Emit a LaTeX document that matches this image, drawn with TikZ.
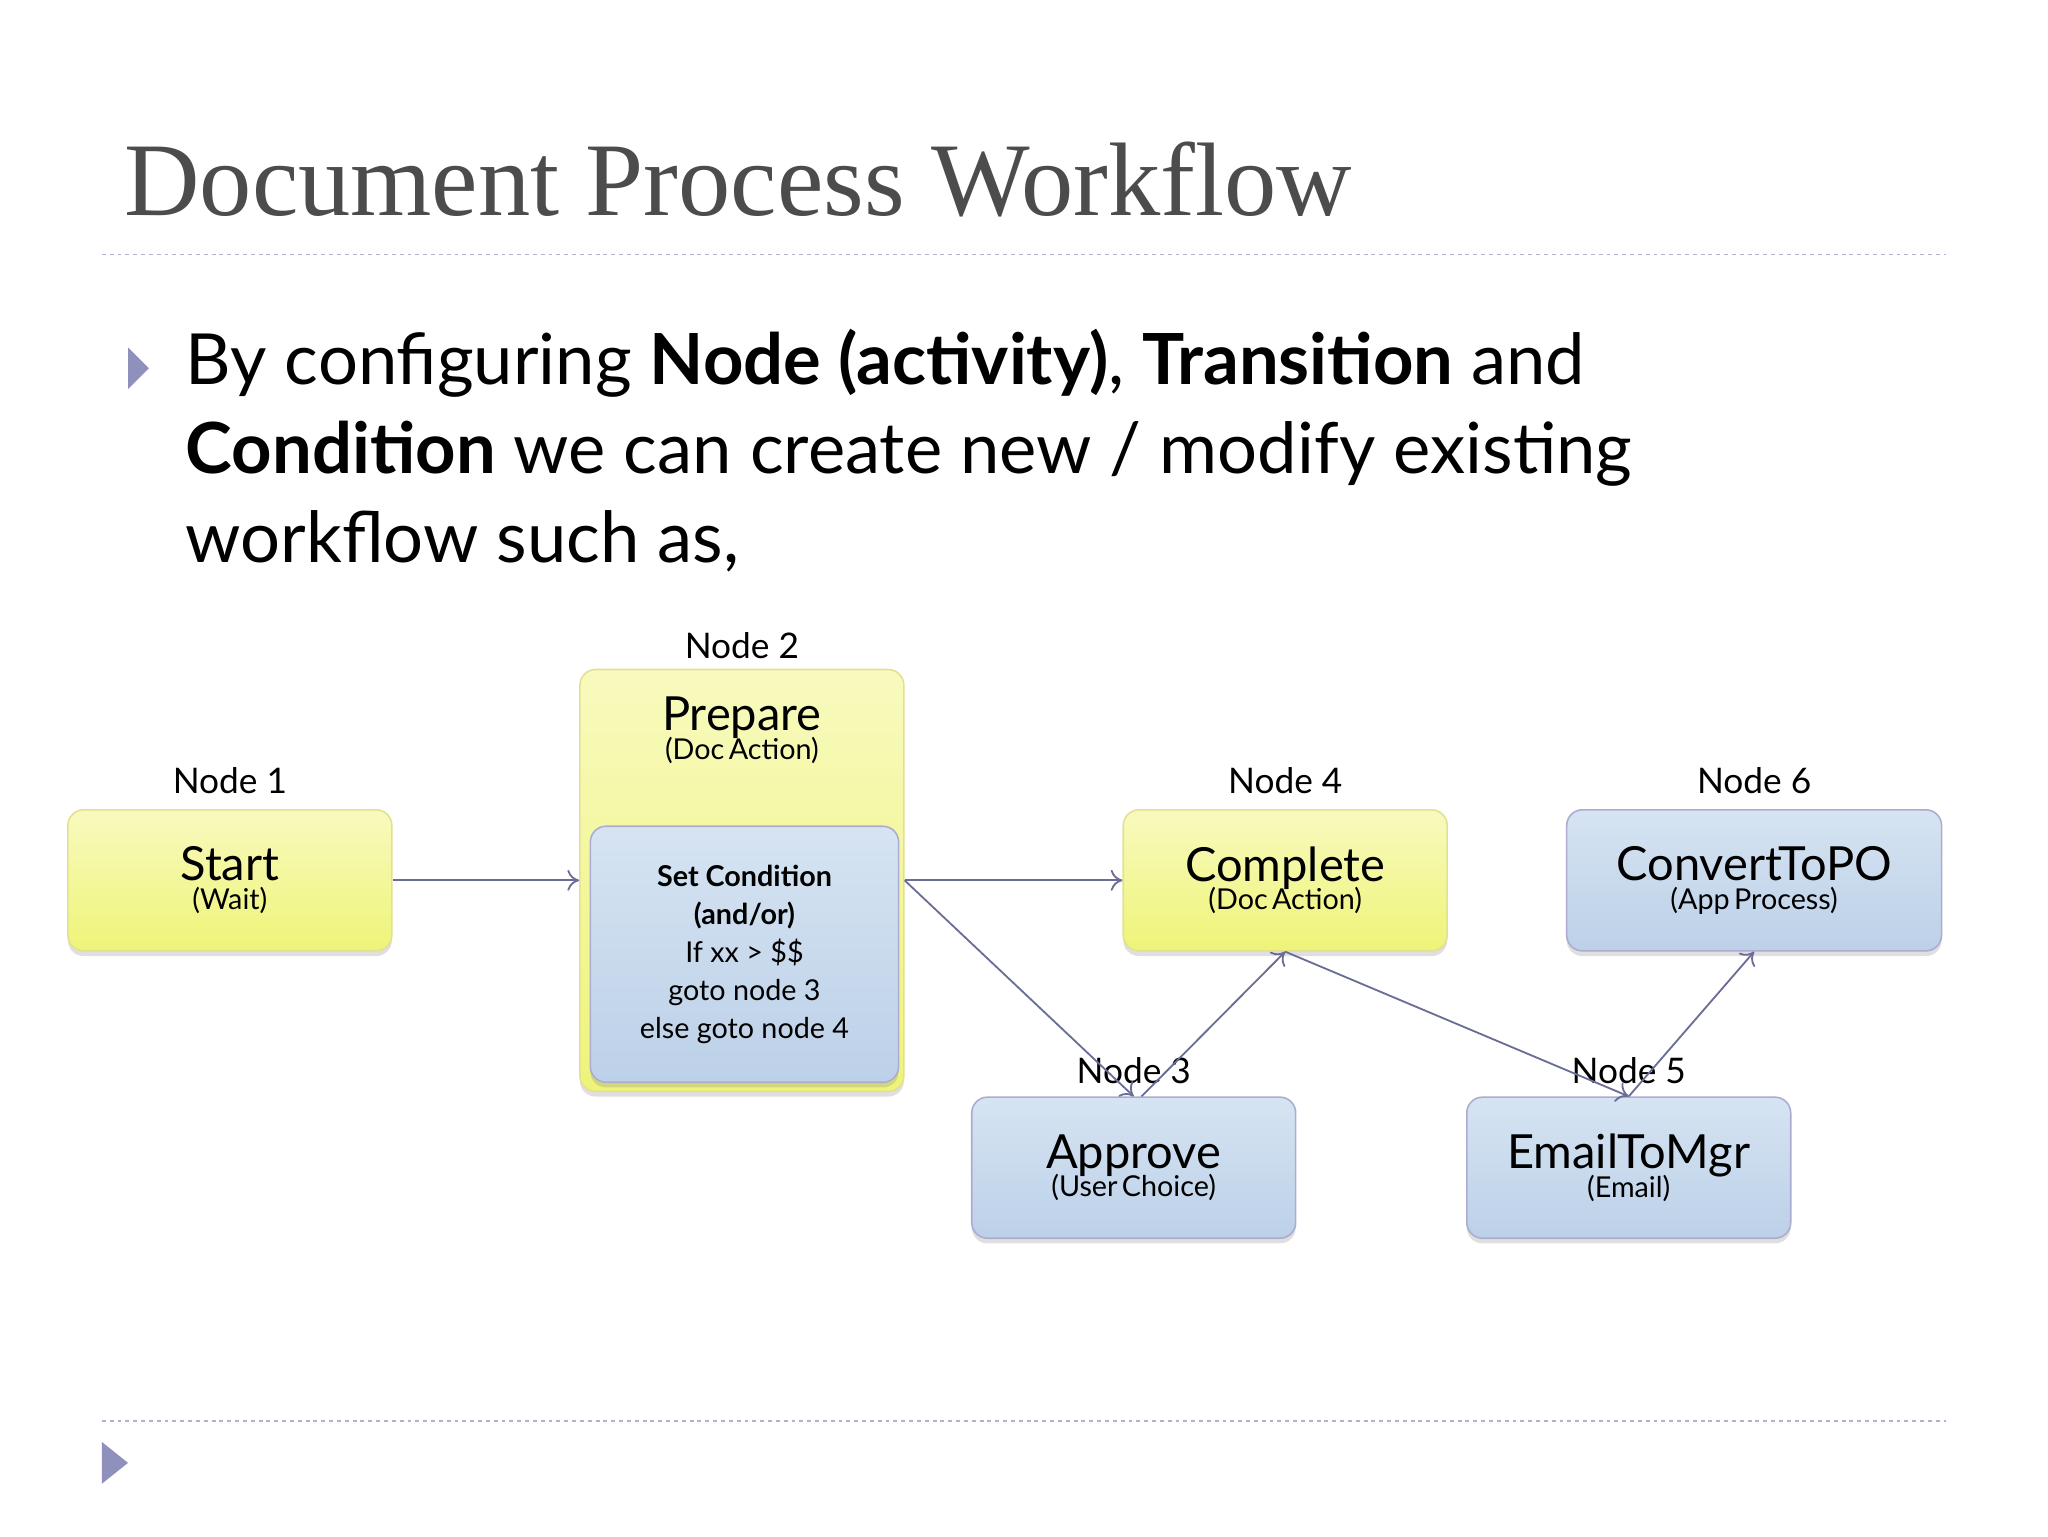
\documentclass[tikz,border=0pt]{standalone}
\usepackage{fontspec}
\setmainfont{Lato}
\newfontfamily\titlefont{Liberation Serif}
\usetikzlibrary{positioning,shadows,arrows.meta}
\definecolor{paleblue}{RGB}{214,228,242}
\definecolor{midblue}{RGB}{188,208,232}
\definecolor{paleyel}{RGB}{248,250,190}
\definecolor{midyel}{RGB}{238,244,120}
\definecolor{edgecol}{RGB}{106,110,150}
\tikzset{
    box/.style={
        rectangle,
        rounded corners=12pt,
        draw=#1,
        line width=1.2pt,
        text centered,
        drop shadow={shadow xshift=0pt,shadow yshift=-4pt,opacity=0.25},
        minimum width=248pt,
        minimum height=108pt
        },
    ybox/.style={
        box=yellow!60!gray!60,
        top color=paleyel,
        bottom color=midyel
        },
    bbox/.style={
        box=blue!30!gray!50,
        top color=paleblue,
        bottom color=midblue
        },
    lbl/.style={
        font=\fontsize{27}{30}\selectfont
        },
    arrout/.style={
        -{To[length=9pt,width=16pt]},
        draw=edgecol,
        line width=1.4pt
        }
}
\newcommand{\boxtxt}[2]{{\fontsize{36}{40}\selectfont #1\par}\vspace{-4pt}{\fontsize{22}{26}\selectfont #2\par}}
\begin{document}
\begin{tikzpicture}[x=1pt,y=-1pt]
\useasboundingbox (0,0) rectangle (1568,1176);

%%%%% heading
\node[anchor=base west,inner sep=0,text=black!70] (title) at (95,165)
    {\titlefont\fontsize{80}{84}\selectfont Document Process Workflow};
\draw[dashed,blue!20!gray!50,line width=1.2pt] (78,195) -- (1490,195);
\fill[blue!25!gray!70] (98,266) -- (114,282) -- (98,298) -- cycle;
\node[anchor=north west,align=left,inner sep=0,font=\fontsize{54}{68}\selectfont] (intro) at (142,252)
    {By configuring \textbf{Node (activity)}, \textbf{Transition} and\\
     \textbf{Condition} we can create new / modify existing\\
     workflow such as,};

%%%%% node n1
\node[ybox,text width=240pt] (n1) at (176,674) {\boxtxt{Start}{(Wait)}};
\node[lbl,above=8pt of n1] {Node 1};

%%%%% node n2
\node[ybox,minimum height=323pt,anchor=north] (n2) at (568,512) {};
\node[text width=240pt,text centered,below=18pt of n2.north] (n2t) {\boxtxt{Prepare}{(Doc Action)}};
\node[lbl,above=4pt of n2] {Node 2};
\node[bbox,minimum width=236pt,minimum height=196pt,anchor=north,align=center,
      font=\fontsize{22}{29}\selectfont] (cond) at (570,632)
    {\textbf{Set Condition}\\\textbf{(and/or)}\\If xx > \$\$\\goto node 3\\else goto node 4};

%%%%% node n4
\node[ybox,text width=240pt] (n4) at (984,674) {\boxtxt{Complete}{(Doc Action)}};
\node[lbl,above=8pt of n4] {Node 4};

%%%%% node n6
\node[bbox,text width=280pt,minimum width=287pt] (n6) at (1343,674) {\boxtxt{ConvertToPO}{(App Process)}};
\node[lbl,above=8pt of n6] {Node 6};

%%%%% node n3
\node[bbox,text width=240pt] (n3) at (868,894) {\boxtxt{Approve}{(User Choice)}};
\node[lbl,above=6pt of n3] {Node 3};

%%%%% node n5
\node[bbox,text width=240pt] (n5) at (1247,894) {\boxtxt{EmailToMgr}{(Email)}};
\node[lbl,above=6pt of n5] {Node 5};

%%%%% edges
\draw[arrout] (n1.east) -- (n2.west |- n1.east);
\draw[arrout] (n2.east |- n1.east) -- (n4.west);
\draw[arrout] (n2.east |- n1.east) -- (n3.north);
\draw[arrout] ([xshift=6pt]n3.north) -- (n4.south);
\draw[arrout] (n4.south) -- (n5.north);
\draw[arrout] (n5.north) -- (n6.south);

%%%%% footer
\draw[dashed,blue!20!gray!50,line width=1.2pt] (78,1088) -- (1490,1088);
\fill[blue!25!gray!70] (78,1104) -- (98,1120) -- (78,1136) -- cycle;
\end{tikzpicture}
\end{document}
